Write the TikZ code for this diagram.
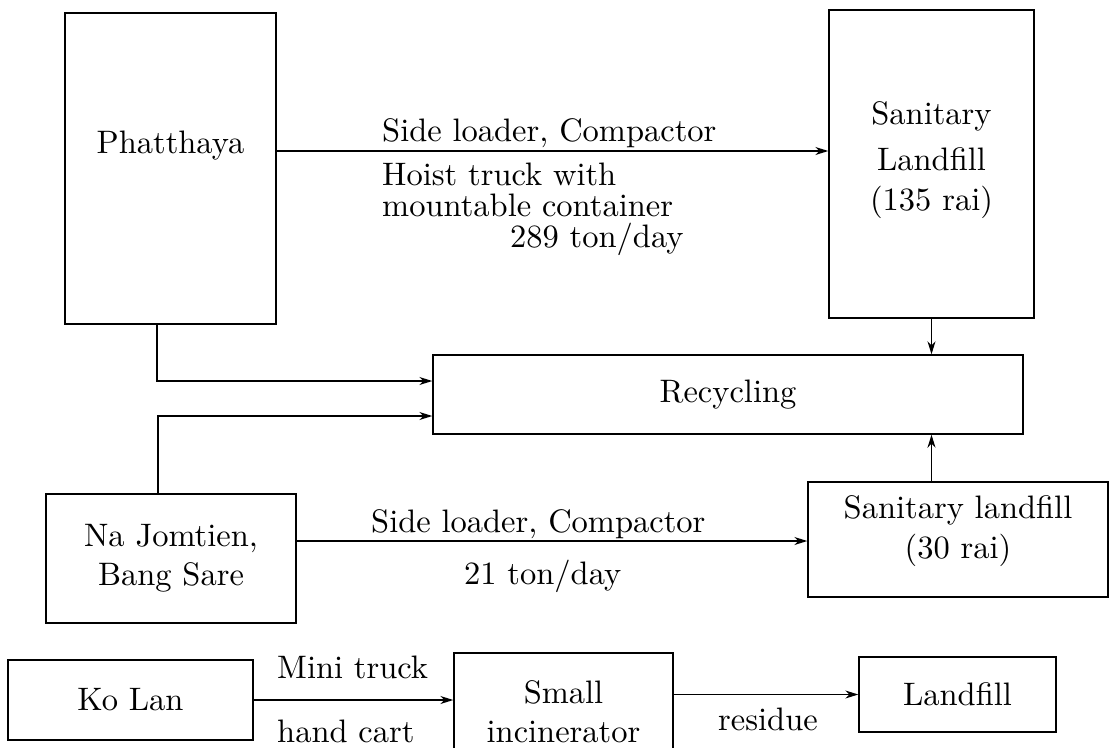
\documentclass[tikz,border=0pt]{standalone}
\usepackage{fontspec}
\setmainfont{lmroman10-regular}[Extension=.otf]
\usetikzlibrary{arrows.meta}
\begin{document}
\begin{tikzpicture}[x=1pt,y=-1pt,
  txt/.style={font=\fontsize{32.5}{36}\selectfont, inner sep=0pt},
  box/.style={draw, line width=1.4pt, txt, align=center},
  lbl/.style={txt, anchor=base west},
  arr/.style={line width=1.3pt, -{Stealth[length=13pt,width=8pt,inset=4pt]}},
  ln/.style={line width=1.3pt}]
\useasboundingbox (0,0) rectangle (1111,747);
\fill[white] (0,0) rectangle (1111,747);
\clip (0,0) rectangle (1111,747);

% boxes
\node[box, minimum width=211pt, minimum height=311pt,
      label={[txt, yshift=23pt]center:Phatthaya}] (p) at (170.5,168.5) {};
\node[box, minimum width=205pt, minimum height=308pt] (sl135) at (931.5,164)
  {Sanitary\\[10pt]Landfill\\[4pt](135 rai)\\[-20pt]\mbox{}};
\node[box, minimum width=590pt, minimum height=79pt] (rec) at (728,394.5) {Recycling};
\node[box, minimum width=250pt, minimum height=129pt] (nj) at (171,558.5)
  {Na Jomtien,\\[3pt]Bang Sare};
\node[box, minimum width=300pt, minimum height=115pt] (sl30) at (958,539.5)
  {Sanitary landfill\\[4pt](30 rai)\\[-12pt]\mbox{}};
\node[box, minimum width=245pt, minimum height=80pt] (kl) at (130.5,700) {Ko Lan};
\node[box, minimum width=219pt, minimum height=117pt] (inc) at (563.5,711.5)
  {Small\\[3pt]incinerator};
\node[box, minimum width=197pt, minimum height=75pt] (lf) at (957.5,694.5) {Landfill};

% connectors
\draw[arr] ([yshift=17.5pt]p.east) -- ([yshift=17.5pt]p.east -| sl135.west);
\draw[arr] (sl135.south) -- (sl135.south |- rec.north);
\draw[arr] ([xshift=-13.5pt]p.south) |- ([yshift=13.5pt]rec.west);
\draw[arr] ([xshift=-13pt]nj.north) |- ([yshift=-21.5pt]rec.west);
\draw[arr] (sl135.south |- sl30.north) -- (sl135.south |- rec.south);
\draw[arr] ([yshift=17.5pt]nj.east) -- ([yshift=17.5pt]nj.east -| sl30.west);
\draw[arr] (kl.east) -- (kl.east -| inc.west);
\draw[arr] (inc.east |- lf.west) -- (lf.west);

% labels
\node[lbl] (l1) at (382,141) {Side loader, Compactor};
\node[txt, anchor=north west, align=left, font=\fontsize{32.5}{31}\selectfont] (l2) at (382,163)
  {Hoist truck with\\mountable container\\\hspace*{128pt}289 ton/day};
\node[lbl] (l3) at (371,532) {Side loader, Compactor};
\node[lbl] (l4) at (464,584) {21 ton/day};
\node[lbl] (l5) at (277,678) {Mini truck};
\node[lbl] (l6) at (277,742) {hand cart};
\node[lbl] (l7) at (718,730) {residue};
\end{tikzpicture}
\end{document}
